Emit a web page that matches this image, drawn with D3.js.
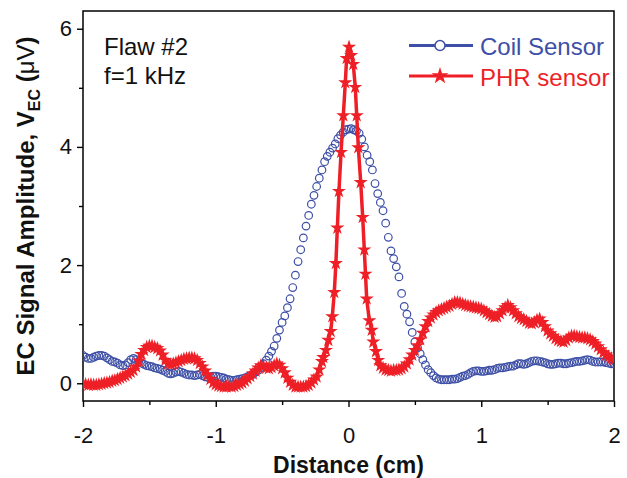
<!DOCTYPE html>
<html>
<head>
<meta charset="utf-8">
<script src="https://cdn.jsdelivr.net/npm/d3@7"></script>
<style>
  body { margin: 0; background: #fff; }
  svg text { font-family: "Liberation Sans", Arial, sans-serif; }
</style>
</head>
<body>
<svg id="chart" width="627" height="478"></svg>
<script>
// Coil sensor (blue circles)
var coilX = [
  -2.00,-1.98,-1.96,-1.94,-1.92,-1.90,-1.88,-1.86,-1.84,-1.82,
  -1.80,-1.78,-1.76,-1.74,-1.72,-1.70,-1.68,-1.66,-1.64,-1.62,
  -1.60,-1.58,-1.56,-1.54,-1.52,-1.50,-1.48,-1.46,-1.44,-1.42,
  -1.40,-1.38,-1.36,-1.34,-1.32,-1.30,-1.28,-1.26,-1.24,-1.22,
  -1.20,-1.18,-1.16,-1.14,-1.12,-1.10,-1.08,-1.06,-1.04,-1.02,
  -1.00,-0.98,-0.96,-0.94,-0.92,-0.90,-0.88,-0.86,-0.84,-0.82,
  -0.80,-0.78,-0.76,-0.74,-0.72,-0.70,-0.68,-0.66,-0.64,-0.62,
  -0.60,-0.58,-0.56,-0.54,-0.52,-0.50,-0.48,-0.46,-0.44,-0.42,
  -0.40,-0.38,-0.36,-0.34,-0.32,-0.30,-0.28,-0.26,-0.24,-0.22,
  -0.20,-0.18,-0.16,-0.14,-0.12,-0.10,-0.08,-0.06,-0.04,-0.02,
  0.00,0.02,0.04,0.06,0.08,0.10,0.12,0.14,0.16,0.18,
  0.20,0.22,0.24,0.26,0.28,0.30,0.32,0.34,0.36,0.38,
  0.40,0.42,0.44,0.46,0.48,0.50,0.52,0.54,0.56,0.58,
  0.60,0.62,0.64,0.66,0.68,0.70,0.72,0.74,0.76,0.78,
  0.80,0.82,0.84,0.86,0.88,0.90,0.92,0.94,0.96,0.98,
  1.00,1.02,1.04,1.06,1.08,1.10,1.12,1.14,1.16,1.18,
  1.20,1.22,1.24,1.26,1.28,1.30,1.32,1.34,1.36,1.38,
  1.40,1.42,1.44,1.46,1.48,1.50,1.52,1.54,1.56,1.58,
  1.60,1.62,1.64,1.66,1.68,1.70,1.72,1.74,1.76,1.78,
  1.80,1.82,1.84,1.86,1.88,1.90,1.92,1.94,1.96,1.98,
  2.00
];
var coilY = [
  0.47,0.44,0.42,0.42,0.44,0.46,0.47,0.47,0.46,0.43,
  0.40,0.37,0.36,0.34,0.31,0.30,0.31,0.35,0.40,0.42,
  0.40,0.37,0.34,0.32,0.30,0.29,0.28,0.26,0.25,0.24,
  0.22,0.20,0.17,0.16,0.17,0.19,0.20,0.19,0.17,0.15,
  0.14,0.14,0.13,0.14,0.15,0.13,0.11,0.10,0.11,0.12,
  0.12,0.11,0.10,0.09,0.07,0.06,0.05,0.05,0.06,0.07,
  0.08,0.09,0.11,0.13,0.15,0.19,0.22,0.26,0.33,0.39,
  0.46,0.54,0.63,0.76,0.90,1.03,1.14,1.28,1.43,1.62,
  1.83,2.06,2.26,2.46,2.66,2.84,3.03,3.18,3.33,3.47,
  3.61,3.75,3.84,3.91,3.98,4.05,4.14,4.20,4.25,4.29,
  4.30,4.31,4.29,4.27,4.23,4.13,4.00,3.86,3.75,3.61,
  3.38,3.21,3.06,2.92,2.71,2.47,2.24,2.11,1.97,1.80,
  1.52,1.30,1.17,1.04,0.86,0.70,0.60,0.50,0.40,0.31,
  0.23,0.18,0.13,0.09,0.07,0.06,0.06,0.06,0.06,0.07,
  0.07,0.08,0.10,0.12,0.13,0.15,0.18,0.20,0.21,0.21,
  0.20,0.20,0.21,0.22,0.22,0.23,0.25,0.26,0.26,0.27,
  0.28,0.29,0.29,0.31,0.33,0.33,0.32,0.33,0.35,0.37,
  0.38,0.38,0.37,0.36,0.35,0.33,0.32,0.32,0.33,0.34,
  0.34,0.33,0.33,0.34,0.35,0.36,0.37,0.37,0.38,0.39,
  0.40,0.39,0.37,0.36,0.36,0.36,0.36,0.35,0.34,0.33,
  0.33
];

// PHR sensor (red stars)
var phrX = [
  -2.00,-1.98,-1.96,-1.94,-1.92,-1.90,-1.88,-1.86,-1.84,-1.82,
  -1.80,-1.78,-1.76,-1.74,-1.72,-1.70,-1.68,-1.66,-1.64,-1.62,
  -1.60,-1.58,-1.56,-1.54,-1.52,-1.50,-1.48,-1.46,-1.44,-1.42,
  -1.40,-1.38,-1.36,-1.34,-1.32,-1.30,-1.28,-1.26,-1.24,-1.22,
  -1.20,-1.18,-1.16,-1.14,-1.12,-1.10,-1.08,-1.06,-1.04,-1.02,
  -1.00,-0.98,-0.96,-0.94,-0.92,-0.90,-0.88,-0.86,-0.84,-0.82,
  -0.80,-0.78,-0.76,-0.74,-0.72,-0.70,-0.68,-0.66,-0.64,-0.62,
  -0.60,-0.58,-0.56,-0.54,-0.52,-0.50,-0.48,-0.46,-0.44,-0.42,
  -0.40,-0.38,-0.36,-0.34,-0.32,-0.30,-0.28,-0.26,-0.24,-0.22,
  -0.20,-0.19,-0.17,-0.152,-0.134,-0.122,-0.107,-0.095,-0.084,-0.072,
  -0.056,-0.039,-0.024,-0.014,0.004,0.020,0.036,0.051,0.062,0.074,
  0.092,0.107,0.119,0.128,0.137,0.157,0.175,0.187,0.207,0.224,
  0.240,
  0.26,0.28,0.30,0.32,0.34,0.36,0.38,0.40,0.42,0.44,
  0.46,0.48,0.50,0.52,0.54,0.56,0.58,0.60,0.62,0.64,
  0.66,0.68,0.70,0.72,0.74,0.76,0.78,0.80,0.82,0.84,
  0.86,0.88,0.90,0.92,0.94,0.96,0.98,1.00,1.02,1.04,
  1.06,1.08,1.10,1.12,1.14,1.16,1.18,1.20,1.22,1.24,
  1.26,1.28,1.30,1.32,1.34,1.36,1.38,1.40,1.42,1.44,
  1.46,1.48,1.50,1.52,1.54,1.56,1.58,1.60,1.62,1.64,
  1.66,1.68,1.70,1.72,1.74,1.76,1.78,1.80,1.82,1.84,
  1.86,1.88,1.90,1.92,1.94,1.96,1.98,2.00
];
var phrY = [
  0.00,-0.02,-0.03,-0.02,-0.03,-0.03,-0.02,-0.01,0.00,0.01,
  0.02,0.04,0.05,0.07,0.09,0.11,0.13,0.16,0.19,0.22,
  0.28,0.38,0.49,0.56,0.61,0.63,0.63,0.61,0.59,0.55,
  0.48,0.39,0.33,0.32,0.33,0.35,0.37,0.39,0.41,0.42,
  0.43,0.43,0.42,0.39,0.34,0.28,0.21,0.14,0.07,0.01,
  -0.02,-0.04,-0.05,-0.06,-0.06,-0.05,-0.06,-0.05,-0.03,-0.01,
  0.01,0.04,0.08,0.12,0.16,0.21,0.26,0.30,0.29,0.26,
  0.25,0.27,0.30,0.33,0.31,0.25,0.18,0.09,0.02,-0.03,
  -0.06,-0.06,-0.06,-0.06,-0.05,-0.03,0.01,0.06,0.11,0.23,
  0.37,0.44,0.56,0.73,0.88,1.13,1.54,2.03,2.63,3.25,
  3.91,4.53,5.09,5.50,5.69,5.55,5.40,5.01,4.53,3.99,
  3.40,2.81,2.26,1.85,1.43,1.06,0.90,0.70,0.54,0.39,
  0.30,
  0.26,0.23,0.22,0.21,0.22,0.22,0.23,0.25,0.28,0.33,
  0.40,0.48,0.56,0.64,0.74,0.85,0.96,1.05,1.11,1.16,
  1.20,1.23,1.25,1.27,1.29,1.31,1.34,1.37,1.37,1.36,
  1.34,1.32,1.31,1.30,1.29,1.28,1.27,1.26,1.23,1.20,
  1.17,1.14,1.12,1.13,1.18,1.23,1.28,1.32,1.28,1.23,
  1.18,1.13,1.10,1.08,1.05,1.02,1.01,1.03,1.07,1.09,
  1.03,0.96,0.89,0.84,0.80,0.76,0.73,0.71,0.70,0.73,
  0.77,0.80,0.80,0.79,0.78,0.77,0.77,0.76,0.74,0.71,
  0.67,0.62,0.57,0.52,0.48,0.45,0.42,0.40
];

var xTicks = [-2, -1, 0, 1, 2];
var xMinor = [-1.5, -0.5, 0.5, 1.5];
var yTicks = [0, 2, 4, 6];
var yMinor = [1, 3, 5];
var seriesNames = ["Coil Sensor", "PHR sensor"];
var noteLines = ["Flaw #2", "f=1 kHz"];

var blue = "#3d4fa6";
var red = "#ee1f26";

var svg = d3.select("#chart");

var mLeft = 83, mRight = 614, mTop = 11, mBottom = 401;

var x = d3.scaleLinear().domain([-2, 2]).range([mLeft, mRight]);
var y = d3.scaleLinear().domain([-0.3, 6.3]).range([mBottom, mTop]);

var coil = coilX.map((d, i) => ({ x: d, y: coilY[i] }));
var phr = phrX.map((d, i) => ({ x: d, y: phrY[i] }));

// axes
svg.append("g")
  .attr("transform", "translate(0," + mBottom + ")")
  .call(d3.axisBottom(x).tickValues(xTicks).tickSize(6).tickPadding(20).tickFormat(d => String(d)));
svg.append("g")
  .attr("transform", "translate(0," + mBottom + ")")
  .call(d3.axisBottom(x).tickValues(xMinor).tickSize(4).tickFormat(""));

svg.append("g")
  .attr("transform", "translate(" + mLeft + ",0)")
  .call(d3.axisLeft(y).tickValues(yTicks).tickSize(6).tickPadding(5).tickFormat(d => String(d)));
svg.append("g")
  .attr("transform", "translate(" + mLeft + ",0)")
  .call(d3.axisLeft(y).tickValues(yMinor).tickSize(4).tickFormat(""));

svg.selectAll(".domain").remove();
svg.selectAll(".tick line").attr("stroke", "#000").attr("stroke-width", 1.4);
svg.selectAll(".tick text")
  .attr("font-size", 22)
  .attr("fill", "#111")
  .style("font-family", "Liberation Sans, Arial, sans-serif");

// frame
svg.append("rect")
  .attr("x", mLeft).attr("y", mTop)
  .attr("width", mRight - mLeft).attr("height", mBottom - mTop)
  .attr("fill", "none").attr("stroke", "#000").attr("stroke-width", 1.5);

// clip
svg.append("clipPath").attr("id", "clip")
  .append("rect").attr("x", mLeft).attr("y", mTop)
  .attr("width", mRight - mLeft).attr("height", mBottom - mTop);

var plot = svg.append("g").attr("clip-path", "url(#clip)");

// coil circles
plot.selectAll("circle.coil")
  .data(coil)
  .enter()
  .append("circle")
  .attr("class", "coil")
  .attr("cx", d => x(d.x))
  .attr("cy", d => y(d.y))
  .attr("r", 3.8)
  .attr("fill", "none")
  .attr("stroke", blue)
  .attr("stroke-width", 1.2);

// phr line + stars
var line = d3.line().x(d => x(d.x)).y(d => y(d.y));
plot.append("path")
  .datum(phr)
  .attr("d", line)
  .attr("fill", "none")
  .attr("stroke", red)
  .attr("stroke-width", 3.5);

var star = d3.symbol().type(d3.symbolStar).size(62);
plot.selectAll("path.phr")
  .data(phr)
  .enter()
  .append("path")
  .attr("class", "phr")
  .attr("d", star)
  .attr("transform", d => "translate(" + x(d.x) + "," + y(d.y) + ")")
  .attr("fill", red);

// notes
svg.selectAll("text.note")
  .data(noteLines)
  .enter()
  .append("text")
  .attr("class", "note")
  .attr("x", 104)
  .attr("y", (d, i) => 55 + i * 29)
  .attr("font-size", 24)
  .attr("fill", "#111")
  .text(d => d);

// legend
var legend = svg.append("g");
var legY = [45.5, 76];
legend.append("line")
  .attr("x1", 409).attr("x2", 473).attr("y1", legY[0]).attr("y2", legY[0])
  .attr("stroke", blue).attr("stroke-width", 3);
legend.append("circle")
  .attr("cx", 440).attr("cy", legY[0]).attr("r", 5)
  .attr("fill", "#fff").attr("stroke", blue).attr("stroke-width", 1.5);
legend.append("line")
  .attr("x1", 409).attr("x2", 473).attr("y1", legY[1]).attr("y2", legY[1])
  .attr("stroke", red).attr("stroke-width", 3);
legend.append("path")
  .attr("d", d3.symbol().type(d3.symbolStar).size(90))
  .attr("transform", "translate(440," + legY[1] + ")")
  .attr("fill", red);
legend.selectAll("text")
  .data(seriesNames)
  .enter()
  .append("text")
  .attr("x", 480)
  .attr("y", (d, i) => legY[i] + 9.5)
  .attr("font-size", 24)
  .attr("fill", (d, i) => i === 0 ? blue : red)
  .text(d => d);

// axis titles
svg.append("text")
  .attr("x", (mLeft + mRight) / 2)
  .attr("y", 473)
  .attr("text-anchor", "middle")
  .attr("font-size", 23)
  .attr("font-weight", "bold")
  .attr("fill", "#111")
  .text("Distance (cm)");

var yt = svg.append("text")
  .attr("transform", "translate(34," + ((mTop + mBottom) / 2) + ") rotate(-90)")
  .attr("text-anchor", "middle")
  .attr("font-size", 24)
  .attr("font-weight", "bold")
  .attr("fill", "#111");
yt.append("tspan").text("EC Signal Amplitude, V");
yt.append("tspan").attr("font-size", 16).attr("dy", 6).text("EC");
yt.append("tspan").attr("dy", -6).text(" (");
yt.append("tspan").attr("font-weight", "normal").text("\u03bcV");
yt.append("tspan").text(")");
</script>
</body>
</html>
